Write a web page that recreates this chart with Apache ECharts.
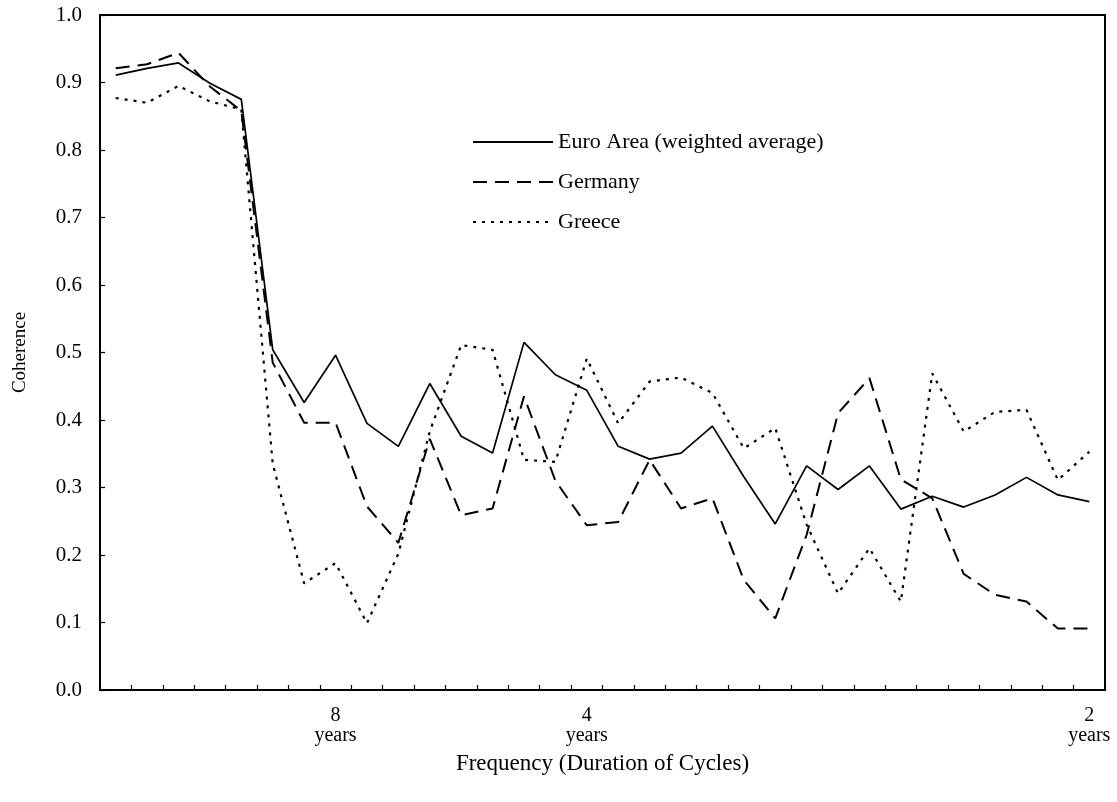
<!DOCTYPE html>
<html>
<head>
<meta charset="utf-8">
<title>Coherence</title>
<script src="https://cdn.jsdelivr.net/npm/echarts@6/dist/echarts.min.js"></script>
<style>
  html, body { margin: 0; padding: 0; background: #fff; }
  #chart { width: 1117px; height: 802px; }
</style>
</head>
<body>
<div id="chart"></div>
<script>
// Frequency index along the spectrum (cycles per 64 years)
const freqIndex = ['1','2','3','4','5','6','7','8','9','10','11','12','13','14','15','16',
                   '17','18','19','20','21','22','23','24','25','26','27','28','29','30','31','32'];

// Categories that carry a tick label, and the cycle length they stand for
const tickAt = ['8', '16', '32'];
const tickYears = ['8', '4', '2'];

// Coherence with the euro area business cycle
const euroArea = [0.911, 0.921, 0.929, 0.899, 0.875, 0.504, 0.426, 0.496, 0.395, 0.361, 0.454,
                  0.376, 0.351, 0.515, 0.467, 0.444, 0.361, 0.342, 0.351, 0.391, 0.316, 0.246,
                  0.332, 0.297, 0.332, 0.268, 0.287, 0.271, 0.289, 0.315, 0.289, 0.279];
const germany  = [0.921, 0.927, 0.944, 0.894, 0.858, 0.485, 0.396, 0.396, 0.272, 0.218, 0.372,
                  0.259, 0.269, 0.435, 0.310, 0.244, 0.249, 0.341, 0.269, 0.284, 0.163, 0.106,
                  0.230, 0.410, 0.462, 0.312, 0.284, 0.172, 0.141, 0.131, 0.091, 0.091];
const greece   = [0.877, 0.870, 0.895, 0.872, 0.860, 0.335, 0.158, 0.188, 0.099, 0.202, 0.383,
                  0.511, 0.504, 0.341, 0.338, 0.491, 0.395, 0.457, 0.463, 0.440, 0.358, 0.388,
                  0.245, 0.143, 0.210, 0.131, 0.469, 0.383, 0.412, 0.415, 0.311, 0.353];

const serif = '"Liberation Serif", "Times New Roman", serif';

const chart = echarts.init(document.getElementById('chart'), null, { renderer: 'canvas' });

chart.setOption({
  animation: false,
  backgroundColor: '#fff',
  grid: {
    left: 100, right: 12, top: 15, bottom: 112,
    show: true, borderColor: '#000', borderWidth: 2, backgroundColor: 'transparent'
  },
  legend: {
    orient: 'vertical',
    left: 472, top: 131,
    padding: 0,
    itemWidth: 80, itemHeight: 20, itemGap: 18,
    itemStyle: { opacity: 0 },
    textStyle: { fontFamily: serif, fontSize: 22, color: '#000' },
    data: ['Euro Area (weighted average)', 'Germany', 'Greece']
  },
  xAxis: {
    type: 'category',
    data: freqIndex,
    boundaryGap: true,
    axisLine: { show: true, lineStyle: { color: '#000', width: 2 } },
    axisTick: { show: true, inside: true, length: 5, interval: 0, lineStyle: { color: '#000', width: 1.2 } },
    axisLabel: {
      interval: 0,
      margin: 16,
      fontFamily: serif, fontSize: 20, lineHeight: 20, color: '#000',
      formatter: function (v) {
        const i = tickAt.indexOf(v);
        return i < 0 ? '' : tickYears[i] + '\nyears';
      }
    },
    splitLine: { show: false },
    name: 'Frequency (Duration of Cycles)',
    nameLocation: 'middle',
    nameGap: 62,
    nameTextStyle: { fontFamily: serif, fontSize: 23, color: '#000' }
  },
  yAxis: {
    type: 'value',
    min: 0, max: 1, interval: 0.1,
    axisLine: { show: true, lineStyle: { color: '#000', width: 2 } },
    axisTick: { show: true, inside: true, length: 5, lineStyle: { color: '#000', width: 1.2 } },
    axisLabel: {
      margin: 18,
      fontFamily: serif, fontSize: 21, color: '#000',
      formatter: function (v) { return v.toFixed(1); }
    },
    splitLine: { show: false },
    name: 'Coherence',
    nameLocation: 'middle',
    nameGap: 70,
    nameTextStyle: { fontFamily: serif, fontSize: 19, color: '#000' }
  },
  series: [
    {
      name: 'Euro Area (weighted average)',
      type: 'line',
      data: euroArea,
      symbol: 'none',
      lineStyle: { color: '#000', width: 1.7, type: 'solid' },
      itemStyle: { color: '#000' }
    },
    {
      name: 'Germany',
      type: 'line',
      data: germany,
      symbol: 'none',
      lineStyle: { color: '#000', width: 2, type: [14, 8] },
      itemStyle: { color: '#000' }
    },
    {
      name: 'Greece',
      type: 'line',
      data: greece,
      symbol: 'none',
      lineStyle: { color: '#000', width: 2.2, type: [3, 6] },
      itemStyle: { color: '#000' }
    }
  ]
});
</script>
</body>
</html>
